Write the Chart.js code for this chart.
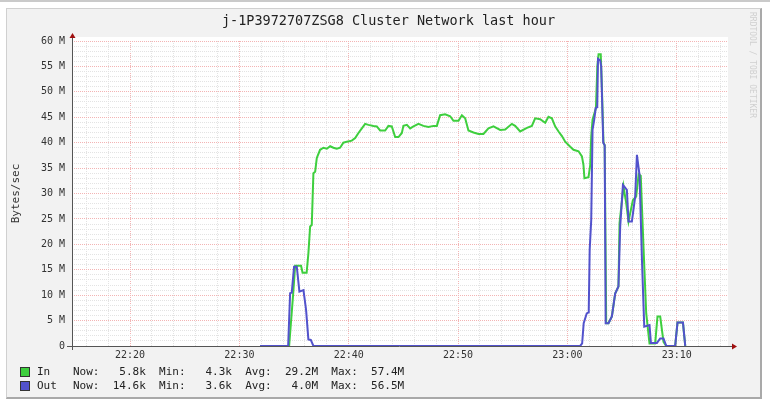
<!DOCTYPE html>
<html lang="en">
<head>
  <meta charset="UTF-8" />
  <title>Cluster Network last hour</title>
  <script src="https://cdn.jsdelivr.net/npm/chart.js"></script>
  <style>
    body {
      margin: 0;
      width: 770px;
      height: 406px;
      overflow: hidden;
      background: #fff;
      font-family: 'DejaVu Sans Mono', monospace;
      color: #222;
    }
    .topline { position: absolute; left: 0; top: 0; width: 770px; height: 2px; background: #cacaca; }
    .frame {
      position: absolute;
      left: 6px; top: 8px;
      width: 753px; height: 388px;
      background: #f2f2f2;
      border: 1px solid #d0d0d0;
      border-right: 2px solid #a9a9a9;
      border-bottom: 2px solid #a9a9a9;
    }
    .frame canvas { position: absolute; left: 0; top: 0; }
    .title {
      position: absolute; left: 5px; top: 3px; width: 753px;
      text-align: center; font-size: 13.5px; line-height: 16px;
    }
    .stamp {
      position: absolute; left: 741px; top: 3px;
      writing-mode: vertical-rl; font-size: 8px; color: #d0d0d0;
    }
    .row { position: absolute; left: 13px; font-size: 11px; line-height: 14px; white-space: pre; }
    .row .sq { position: absolute; left: 0; top: 2px; width: 8px; height: 8px; border: 1px solid #333; }
    .row .lbl { position: absolute; left: 17px; }
    .row .stats { position: absolute; left: 53px; }
  </style>
</head>
<body>
  <div class="topline"></div>
  <div class="frame">
    <canvas id="chart" width="753" height="388"></canvas>
    <div class="title">j-1P3972707ZSG8 Cluster Network last hour</div>
    <div class="stamp">RRDTOOL / TOBI OETIKER</div>
    <div class="row" id="rowIn" style="top:356px"></div>
    <div class="row" id="rowOut" style="top:370px"></div>
  </div>

  <script>
    // time in minutes after 22:00, values in M bytes/sec
    const xMin = 14.69, xMax = 74.69;
    const xGrid = [16, 18, 20, 22, 24, 26, 28, 30, 32, 34, 36, 38, 40, 42, 44, 46, 48, 50, 52, 54, 56, 58, 60, 62, 64, 66, 68, 70, 72, 74];
    const yGrid = Array.from({ length: 61 }, (_, i) => i);

    const inTimes = [
      31.89, 34.36, 34.55, 34.82, 34.91, 35.10, 35.64, 35.78, 36.15, 36.31,
      36.47, 36.62, 36.77, 36.93, 37.08, 37.38, 37.69, 38.00, 38.30, 38.60,
      38.91, 39.21, 39.51, 39.83, 40.28, 40.59, 40.89, 41.20, 41.50, 41.80,
      42.26, 42.57, 42.87, 43.33, 43.63, 43.94, 44.25, 44.55, 44.86, 45.00,
      45.32, 45.62, 45.92, 46.38, 46.83, 47.29, 47.75, 48.06, 48.36, 48.82,
      49.28, 49.58, 50.04, 50.35, 50.65, 50.95, 51.41, 51.87, 52.32, 52.78,
      53.24, 53.85, 54.31, 54.92, 55.22, 55.68, 56.30, 56.75, 57.05, 57.51,
      57.97, 58.27, 58.58, 58.88, 59.19, 59.50, 59.80, 60.26, 60.56, 61.02,
      61.33, 61.47, 61.56, 61.93, 62.09, 62.18, 62.30, 62.61, 62.74, 62.85,
      63.05, 63.14, 63.30, 63.41, 63.55, 63.76, 64.07, 64.37, 64.67, 64.77,
      65.13, 65.38, 65.59, 65.99, 66.29, 66.52, 66.71, 66.96, 67.21, 67.51,
      68.03, 68.24, 68.49, 68.79, 69.04, 69.86, 70.07, 70.57, 70.78
    ];
    const inValues = [
      0.005, 0.005, 0.005, 7.5, 10.0, 15.8, 15.8, 14.4, 14.4, 18.2,
      23.5, 23.8, 34.0, 34.3, 37.0, 38.6, 39.0, 38.8, 39.3, 39.0,
      38.8, 39.0, 40.0, 40.2, 40.4, 40.9, 41.9, 42.8, 43.7, 43.5,
      43.3, 43.2, 42.4, 42.4, 43.3, 43.2, 41.1, 41.1, 41.9, 43.3,
      43.5, 42.8, 43.2, 43.7, 43.3, 43.1, 43.3, 43.3, 45.4, 45.6,
      45.2, 44.3, 44.3, 45.4, 44.8, 42.4, 42.0, 41.7, 41.7, 42.8,
      43.2, 42.5, 42.6, 43.7, 43.3, 42.2, 42.9, 43.3, 44.8, 44.6,
      43.9, 45.1, 44.8, 43.2, 42.2, 41.3, 40.2, 39.2, 38.6, 38.3,
      37.3, 35.6, 33.0, 33.2, 35.6, 41.2, 44.5, 46.8, 55.0, 57.4,
      57.4, 52.0, 40.0, 39.5, 4.5, 4.5, 5.8, 10.3, 11.7, 24.2,
      31.4, 28.1, 24.5, 28.7, 29.4, 33.8, 33.5, 19.5, 6.4, 0.5,
      0.5, 5.8, 5.8, 0.8, 0.01, 0.01, 4.6, 4.6, 0.006
    ];

    const outTimes = [
      31.89, 34.46, 34.64, 34.79, 35.00, 35.25, 35.49, 35.86, 36.10, 36.31,
      36.53, 36.77, 61.17, 61.35, 61.49, 61.77, 61.95, 62.04, 62.18, 62.30,
      62.45, 62.59, 62.73, 62.80, 63.00, 63.09, 63.28, 63.41, 63.50, 63.76,
      64.07, 64.37, 64.67, 64.83, 65.08, 65.44, 65.59, 65.90, 66.20, 66.36,
      66.60, 66.82, 67.03, 67.51, 67.64, 68.19, 68.49, 68.79, 69.04, 69.86,
      70.07, 70.57, 70.78
    ];
    const outValues = [
      0.004, 0.004, 10.4, 10.5, 15.6, 15.6, 10.7, 11.0, 7.1, 1.3,
      1.2, 0.004, 0.004, 0.5, 4.5, 6.4, 6.6, 19.0, 24.8, 42.5,
      44.5, 46.8, 47.0, 56.5, 56.2, 55.0, 40.0, 39.5, 4.5, 4.5,
      5.8, 10.3, 11.7, 23.5, 31.7, 30.7, 24.5, 24.5, 29.4, 37.6,
      33.6, 16.9, 3.8, 4.1, 0.6, 0.6, 1.5, 1.5, 0.01, 0.01,
      4.6, 4.6, 0.0146
    ];

    const inStats = ['5.8k', '4.3k', '29.2M', '57.4M'];
    const outStats = ['14.6k', '3.6k', '4.0M', '56.5M'];
    const statNames = ['Now:', 'Min:', 'Avg:', 'Max:'];

    const inColor = '#3ecf3e';
    const outColor = '#5252cc';

    function fillRow(id, label, color, stats) {
      const text = stats.map((s, i) => statNames[i] + s.padStart(7)).join('  ');
      document.getElementById(id).innerHTML =
        `<span class="sq" style="background:${color}"></span><span class="lbl">${label}</span><span class="stats">${text}</span>`;
    }
    fillRow('rowIn', 'In', inColor, inStats);
    fillRow('rowOut', 'Out', outColor, outStats);

    function timeLabel(v) {
      const h = 22 + Math.floor(v / 60);
      const m = v % 60;
      return h + ':' + String(m).padStart(2, '0');
    }

    const rrdDecor = {
      id: 'rrdDecor',
      beforeDraw(chart) {
        const { ctx, chartArea: a } = chart;
        ctx.save();
        ctx.fillStyle = '#fff';
        ctx.fillRect(a.left, a.top - 4, a.right - a.left, a.bottom - a.top + 4);
        ctx.restore();
      },
      beforeDatasetsDraw(chart) {
        const { ctx, chartArea: a } = chart;
        const yb = Math.round(a.bottom) + 0.5;
        const xl = Math.round(a.left) + 0.5;
        ctx.save();
        ctx.strokeStyle = '#555';
        ctx.lineWidth = 1;
        ctx.beginPath();
        ctx.moveTo(a.left - 5, yb);
        ctx.lineTo(a.right + 4, yb);
        ctx.moveTo(xl, a.bottom + 4);
        ctx.lineTo(xl, a.top - 3);
        ctx.stroke();
        // arrows
        ctx.fillStyle = '#a01010';
        ctx.beginPath();
        ctx.moveTo(a.right + 4, yb - 3);
        ctx.lineTo(a.right + 9, yb);
        ctx.lineTo(a.right + 4, yb + 3);
        ctx.fill();
        ctx.beginPath();
        ctx.moveTo(xl - 3, a.top - 3);
        ctx.lineTo(xl, a.top - 8);
        ctx.lineTo(xl + 3, a.top - 3);
        ctx.fill();
        ctx.restore();
      }
    };

    const minorGrid = '#e3e3e3';
    const majorGrid = '#f3b4b4';

    new Chart(document.getElementById('chart'), {
      type: 'line',
      data: {
        datasets: [
          {
            label: 'In',
            data: inTimes.map((t, i) => ({ x: t, y: inValues[i] })),
            borderColor: inColor,
            borderWidth: 2,
            pointRadius: 0,
            tension: 0,
            order: 2
          },
          {
            label: 'Out',
            data: outTimes.map((t, i) => ({ x: t, y: outValues[i] })),
            borderColor: outColor,
            borderWidth: 2,
            pointRadius: 0,
            tension: 0,
            order: 1
          }
        ]
      },
      options: {
        responsive: false,
        animation: false,
        devicePixelRatio: 1,
        layout: { padding: { top: 32, right: 32, left: 0, bottom: 0 } },
        plugins: { legend: { display: false }, tooltip: { enabled: false } },
        scales: {
          x: {
            type: 'linear',
            min: xMin,
            max: xMax,
            afterBuildTicks: s => { s.ticks = xGrid.map(v => ({ value: v })); },
            afterFit: s => { s.height = 51; },
            border: { display: false, dash: [1, 1] },
            grid: {
              drawTicks: false,
              color: c => (c.tick && c.tick.value % 10 === 0 ? majorGrid : minorGrid)
            },
            ticks: {
              autoSkip: false,
              maxRotation: 0,
              padding: 3,
              color: '#333',
              font: { family: 'DejaVu Sans Mono', size: 10 },
              callback: v => (v % 10 === 0 ? timeLabel(v) : '')
            }
          },
          y: {
            min: 0,
            max: 60,
            afterBuildTicks: s => { s.ticks = yGrid.map(v => ({ value: v })); },
            afterFit: s => { s.width = 65; },
            border: { display: false, dash: [1, 1] },
            grid: {
              drawTicks: false,
              color: c => (c.tick && c.tick.value % 5 === 0 ? majorGrid : minorGrid)
            },
            ticks: {
              autoSkip: false,
              padding: 7,
              color: '#333',
              font: { family: 'DejaVu Sans Mono', size: 10 },
              callback: v => (v % 5 === 0 ? (v === 0 ? '0' : v + ' M') : '')
            },
            title: {
              display: true,
              text: 'Bytes/sec',
              color: '#333',
              padding: { top: 3, bottom: 0 },
              font: { family: 'DejaVu Sans Mono', size: 11 }
            }
          }
        }
      },
      plugins: [rrdDecor]
    });
  </script>
</body>
</html>
